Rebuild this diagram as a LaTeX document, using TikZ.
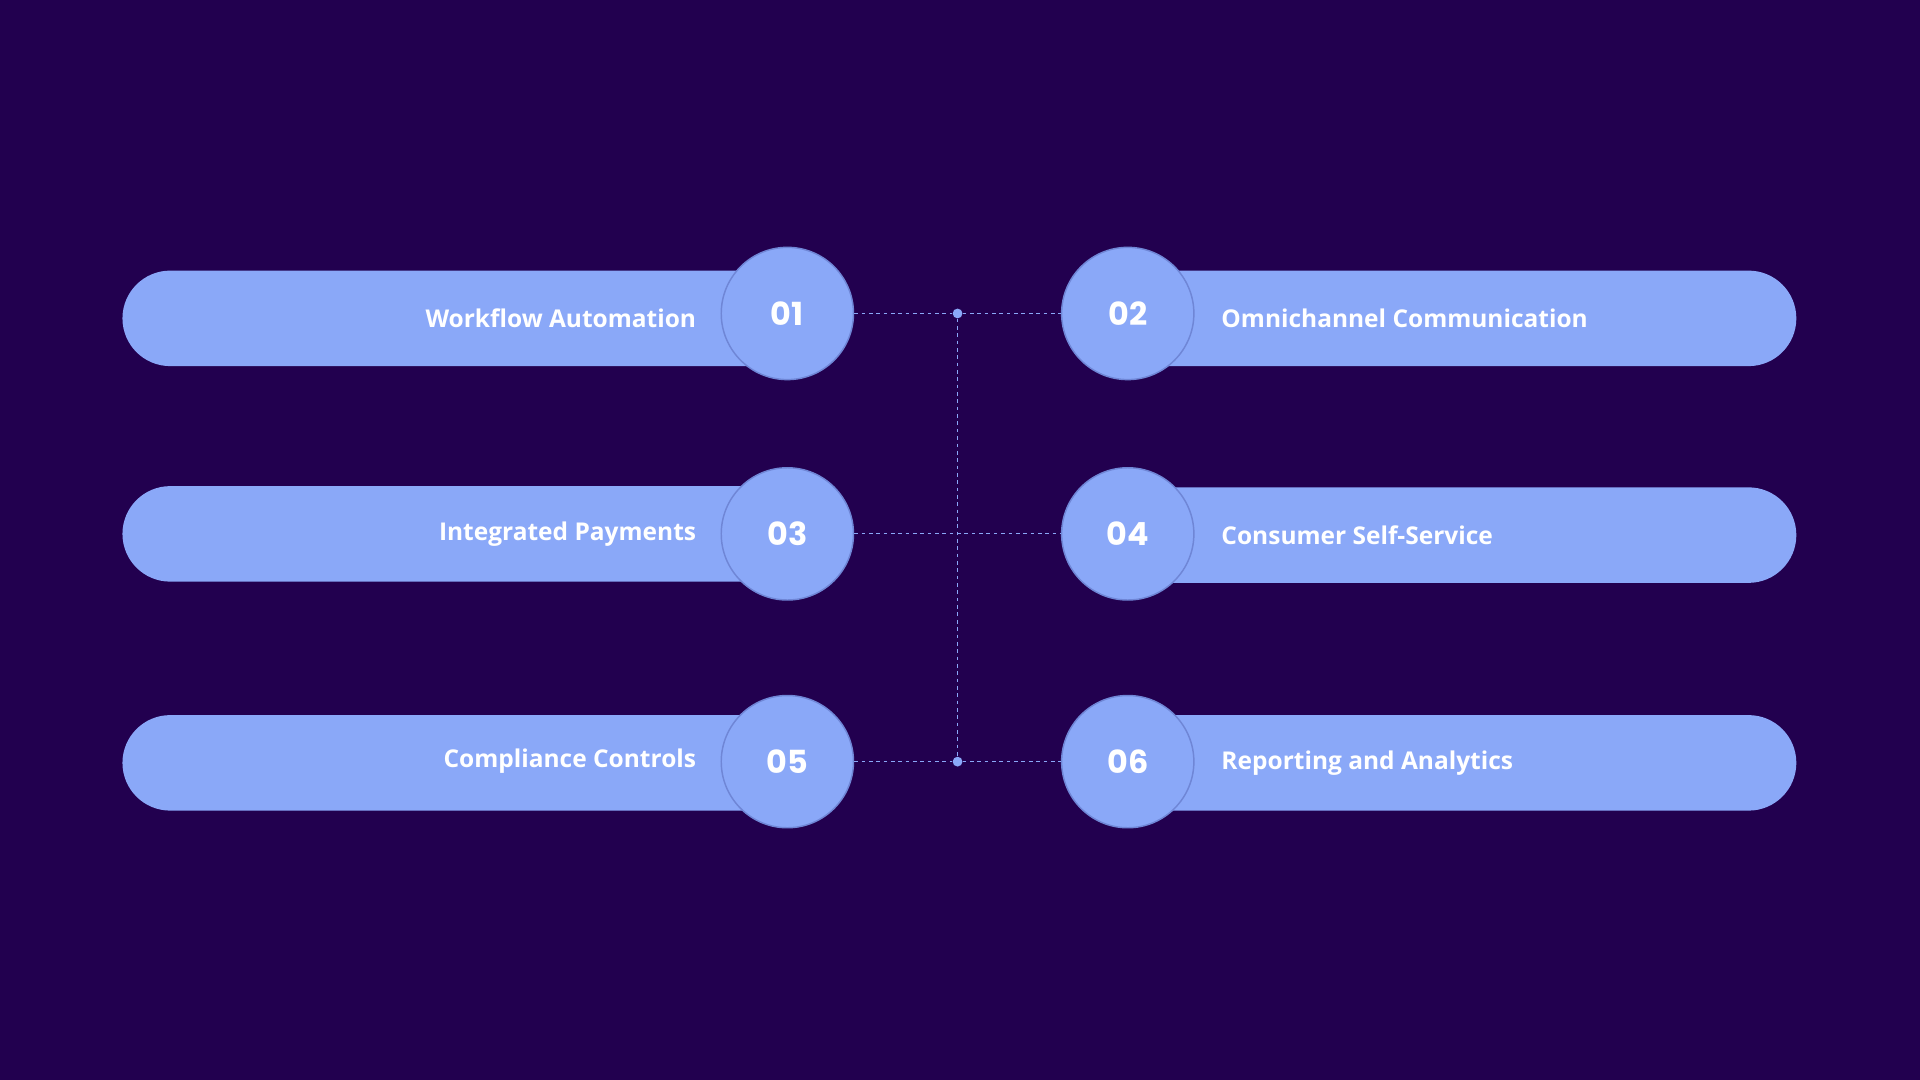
\documentclass[tikz,border=0pt]{standalone}
\usepackage{fontspec}
\setmainfont{Open Sans}
\newfontfamily\numfont{Poppins}
\definecolor{bgpurple}{HTML}{22004F}
\definecolor{pillblue}{HTML}{8AA8F8}
\definecolor{rimblue}{HTML}{6F86D6}
\begin{document}
\begin{tikzpicture}[x=1pt,y=-1pt,
    num/.style={circle,fill=pillblue,draw=rimblue,line width=1.2pt,minimum size=108pt,inner sep=0pt,font=\numfont\fontsize{26}{26}\selectfont,text=white},
    lbl/.style={font=\fontsize{20}{20}\selectfont\bfseries,text=white},
    link/.style={draw=pillblue,dashed,dash pattern=on 3pt off 3pt,line width=1pt},
    dot/.style={circle,fill=pillblue,minimum size=8pt,inner sep=0pt}]
    \fill[bgpurple] (0,0) rectangle (1568,882);
    \useasboundingbox (0,0) rectangle (1568,882);
    % left column
    \fill[pillblue,rounded corners=39pt] (100,221) rectangle (660,299);
    \fill[pillblue,rounded corners=39pt] (100,397) rectangle (660,475);
    \fill[pillblue,rounded corners=39pt] (100,584) rectangle (660,662);
    % right column
    \fill[pillblue,rounded corners=39pt] (900,221) rectangle (1467,299);
    \fill[pillblue,rounded corners=39pt] (900,398) rectangle (1467,476);
    \fill[pillblue,rounded corners=39pt] (900,584) rectangle (1467,662);
    \node[lbl,anchor=east] (t1) at (572,260) {Workflow Automation};
    \node[lbl,anchor=east] (t3) at (572,436) {Integrated Payments};
    \node[lbl,anchor=east] (t5) at (572,622) {Compliance Controls};
    \node[lbl,anchor=west] (t2) at (994,260) {Omnichannel Communication};
    \node[lbl,anchor=west] (t4) at (994,437) {Consumer Self-Service};
    \node[lbl,anchor=west] (t6) at (994,623) {Reporting and Analytics};
    \node[num] (n1) at (643,256) {\textbf{01}};
    \node[num] (n3) at (643,436) {\textbf{03}};
    \node[num] (n5) at (643,622) {\textbf{05}};
    \node[num] (n2) at (921,256) {\textbf{02}};
    \node[num] (n4) at (921,436) {\textbf{04}};
    \node[num] (n6) at (921,622) {\textbf{06}};
    % connectors
    \node[dot] (d1) at (782,256) {};
    \node[dot] (d5) at (782,622) {};
    \coordinate (m3) at (782,436);
    \draw[link] (n1) -- (d1) -- (n2);
    \draw[link] (n5) -- (d5) -- (n6);
    \draw[link] (n3) -- (m3) -- (n4);
    \draw[link] (d1) -- (d5);
\end{tikzpicture}
\end{document}
